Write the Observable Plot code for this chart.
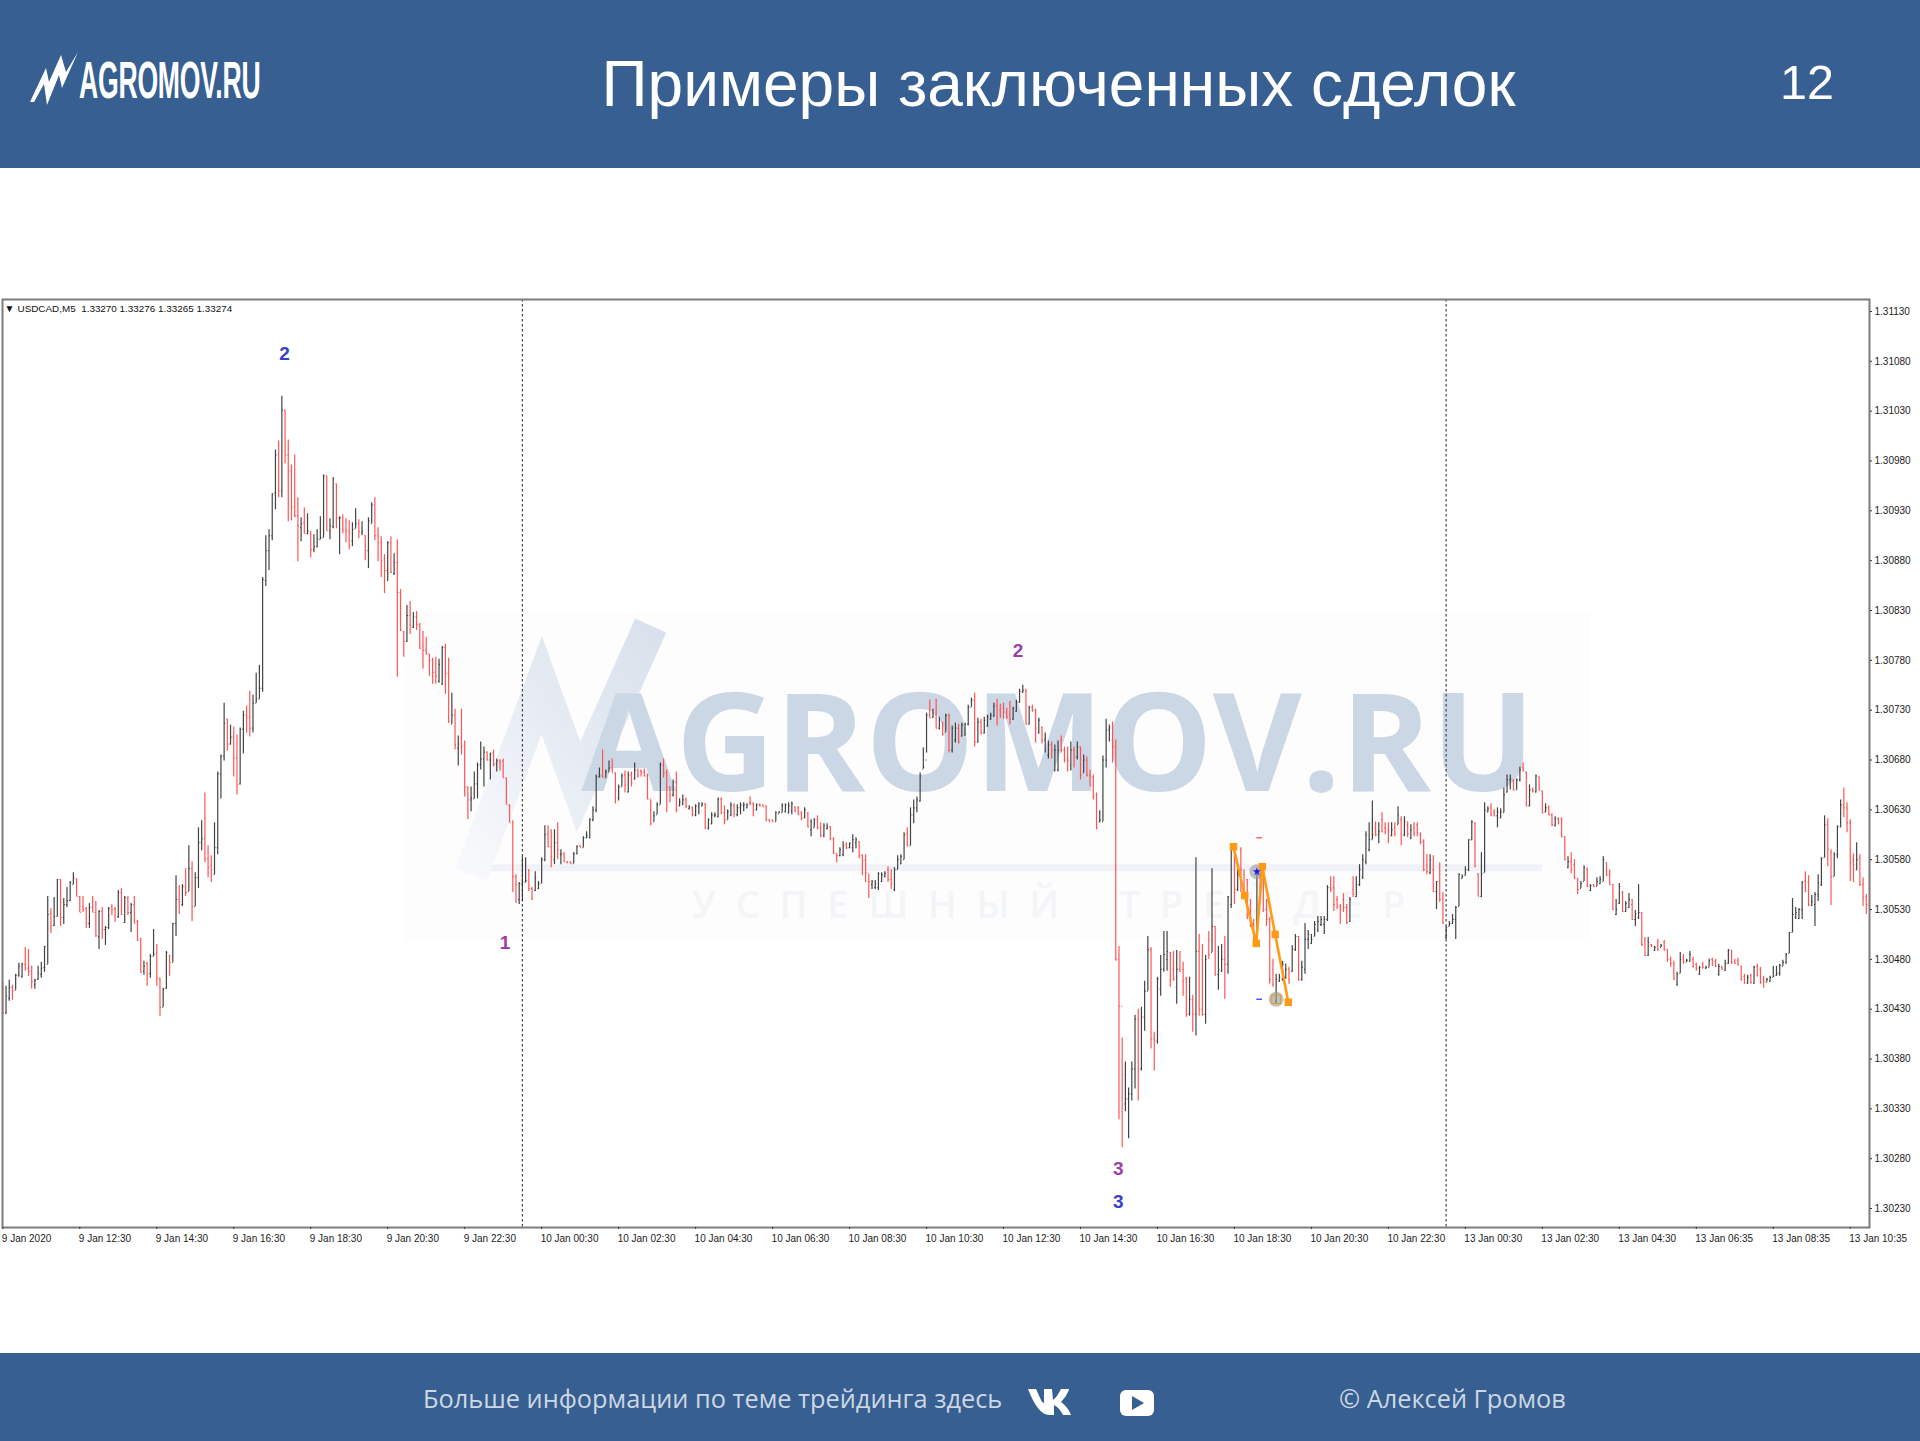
<!DOCTYPE html>
<html lang="ru"><head><meta charset="utf-8">
<script src="https://cdn.jsdelivr.net/npm/d3@7"></script>
<script src="https://cdn.jsdelivr.net/npm/@observablehq/plot@0.6"></script>
<style>
html,body{margin:0;padding:0;background:#fff;overflow:hidden}
#page{position:relative;width:1920px;height:1441px;font-family:"Liberation Sans",Arial,sans-serif}
#head{position:absolute;left:0;top:0;width:1920px;height:168px;background:#375f91;color:#fff}
#title{position:absolute;left:0;width:2117px;top:46px;text-align:center;font-size:64px;line-height:76px}
#num{position:absolute;left:1780px;top:53px;font-size:48.5px;line-height:58px}
#logo{position:absolute;left:79px;top:50px;font-family:"Liberation Sans";font-weight:700;font-size:52px;line-height:60px;transform-origin:0 0;transform:scaleX(.512);letter-spacing:-.5px;white-space:nowrap}
#chart{position:absolute;left:0;top:168px}
#foot{position:absolute;left:0;top:1353px;width:1920px;height:88px;background:#375f91;color:#cdd7e4;font-family:"Open Sans",sans-serif;font-size:25.35px}
#foot span{position:absolute;top:27px;white-space:nowrap;line-height:36px}
svg.deco{position:absolute;left:0;top:0;overflow:visible}
</style></head><body>
<div id="page">
<div id="head">
<svg class="deco" width="120" height="120"><polygon fill="#fff" points="30,102 46,68 49,82 61,55 66,72 78,52 62,88 59,75 47,105 44,84 34,102"/></svg>
<div id="logo">AGROMOV.RU</div>
<div id="title">Примеры заключенных сделок</div>
<div id="num">12</div>
</div>
<div id="chart"></div>
<div id="foot">
<span style="left:423px">Больше информации по теме трейдинга здесь</span>
<svg class="deco" width="1200" height="88"><path fill="#fff" d="M1028 36h8l5 11c1 2 2 3 3 3V36h8l1 11c3-2 6-7 8-11h8c-1 5-6 11-8 13 3 2 8 7 10 13h-8c-2-4-5-8-9-10v10h-5c-7 0-14-8-21-26z"/><rect x="1120" y="37" width="34" height="26" rx="6" fill="#fff"/><polygon points="1132,43 1132,57 1144,50" fill="#375f91"/></svg>
<span style="left:1339px">© Алексей Громов</span>
</div>
</div>
<script>
// Prices in points above 1.30000; each row is [high, low, open, close]
const bars9Jan = [
[457,425,456,426],[453,425,426,443],[459,438,441,452],[454,439,452,448],[465,449,449,464],[476,462,464,473],[476,461,463,475],[492,468,475,471],
[490,463,471,468],[473,450,468,458],[460,450,455,459],[473,459,460,466],[477,461,465,471],[493,467,472,493],[543,475,475,525],[531,506,526,514],
[542,513,514,523],[560,523,523,560],[560,513,560,522],[541,515,522,535],[552,532,535,539],[558,538,539,557],[567,555,555,562],[561,543,560,543],
[543,527,543,527],[543,527,533,530],[532,511,531,516],[536,511,516,532],[543,527,532,527],[538,502,527,504],[529,490,503,528],[532,500,528,510],
[513,494,510,512],[532,510,512,531],[535,524,533,530],[532,517,531,530],[549,521,523,547],[551,524,547,525],[543,516,517,542],[543,524,541,527],
[536,507,527,535],[543,516,535,516],[519,498,518,499],[501,466,501,467],[478,464,468,473],[477,453,476,466],[485,461,466,483],[510,483,483,485],
[495,453,487,461],[461,423,461,432],[451,432,432,450],[488,450,451,487],[484,463,484,477],[516,477,477,516],[564,503,516,540],[554,525,540,538],
[555,533,535,553],[571,543,553,547],[594,548,548,571],[578,518,571,533],[567,533,533,562],[612,551,562,597],[619,589,597,601],[647,577,601,581],
[594,562,581,572],[584,557,574,570],[617,565,565,592],[668,585,592,666],[685,641,666,684],[737,679,684,717],[721,689,721,696],[715,695,696,703],
[713,663,703,682],[705,645,682,655],[712,655,656,711],[729,686,711,725],[734,707,725,723],[749,703,723,712],[745,707,712,737],[767,737,737,742],
[775,741,741,752],[863,748,752,861],[905,854,860,890],[911,870,890,905],[947,900,905,947],[991,931,948,986],[1000,943,985,950],[1045,943,950,1031],
[1031,977,1031,986],[1001,919,986,970],[976,920,970,933],[986,923,934,925],[943,879,925,915],[923,899,913,917],[933,907,918,907],[927,906,907,910],
[909,883,909,891],[906,888,891,894],[911,893,894,902],[924,901,901,903],[966,903,903,965],[965,910,965,910],[922,901,910,915],[963,912,914,963],
[957,912,957,923],[924,886,922,923],[926,907,923,911],[922,898,911,909],[920,891,910,908],[918,894,900,911],[932,912,912,917],[921,902,917,909],
[919,905,908,910],[905,880,905,890],[923,872,890,920],[938,917,917,936],[943,900,936,905],[913,879,905,898],[904,863,898,880],[886,847,882,870],
[899,859,870,898],[904,867,898,868],[887,865,867,878],[901,763,878,848],[851,809,848,810],[809,783,809,799],[835,798,799,825],[839,806,825,815],
[828,812,813,823],[829,810,824,816],[817,791,816,792],[809,771,794,790],[803,785,790,787],[786,764,786,780],[782,756,780,768],[783,756,768,764],
[781,757,759,776],[794,755,756,793],[796,746,793,767],[782,717,767,718],[747,716,716,725],[731,690,725,695],[704,674,692,696],[731,685,702,694],
[699,643,695,653],[653,620,653,640],[653,628,640,642],[668,641,641,656],[677,641,656,675],[698,670,675,681],[693,653,681,688],[688,679,688,680],
[687,660,680,686],[690,673,687,676],[681,668,676,679],[680,669,680,678],[681,662,679,662],[662,635,662,635],[635,617,635,617],[619,547,617,563],
[565,536,563,555],[557,535,540,556]];
const bars10Jan = [
[583,538,556,558],[582,557,557,559],[570,548,570,551],[552,539,551,541],[568,548,549,562],[558,550,551,556],[582,556,556,580],[614,578,580,605],
[614,592,606,593],[610,572,593,583],[610,575,580,597],[617,580,597,590],[590,575,585,586],[587,577,586,578],[578,576,578,577],[578,576,577,576],
[587,576,576,586],[594,585,586,593],[594,592,594,592],[603,592,592,602],[608,601,602,604],[621,601,602,620],[633,618,620,630],[665,627,630,663],
[672,662,663,664],[690,662,664,663],[670,662,662,668],[679,668,668,672],[681,667,672,667],[667,636,667,650],[655,639,642,653],[666,653,653,664],
[669,647,665,655],[668,647,648,665],[668,653,665,657],[677,660,661,670],[671,662,670,664],[670,663,669,667],[671,663,668,664],[666,640,664,641],
[640,614,641,616],[628,618,618,624],[637,625,625,635],[677,635,635,675],[681,662,675,667],[670,627,667,653],[653,637,653,645],[660,643,645,658],
[668,627,658,630],[641,633,634,638],[645,634,636,640],[642,631,640,634],[634,630,631,633],[633,623,632,625],[635,623,625,634],[637,625,633,636],
[637,633,634,636],[636,610,636,612],[621,610,611,620],[627,615,616,625],[627,622,624,625],[642,622,623,641],[642,625,641,627],[634,615,627,620],
[630,620,620,628],[637,623,625,635],[636,622,634,626],[635,623,625,632],[637,625,632,635],[637,628,634,635],[636,631,632,635],[643,634,637,636],
[637,623,636,630],[636,629,630,635],[636,633,635,634],[635,633,634,633],[634,618,633,620],[620,618,620,618],[620,618,619,618],[628,618,618,627],
[628,626,626,628],[636,627,627,634],[636,627,628,635],[637,626,627,634],[638,625,629,636],[633,627,633,629],[633,624,632,626],[628,619,627,621],
[632,621,622,630],[627,612,627,613],[620,603,610,618],[621,612,612,620],[624,610,620,612],[617,602,612,604],[616,602,604,614],[616,610,611,613],
[613,599,613,601],[602,585,601,587],[586,577,586,584],[592,583,584,590],[598,583,585,594],[597,590,595,592],[597,591,592,596],[605,587,592,600],
[602,591,597,600],[598,581,598,584],[585,564,584,579],[585,557,580,567],[565,541,566,558],[559,550,555,558],[559,550,552,556],[567,549,552,566],
[567,557,558,565],[568,562,563,566],[573,557,570,560],[570,550,560,556],[572,548,550,570],[584,570,570,580],[585,575,576,583],[607,580,580,605],
[612,593,606,594],[632,594,594,625],[640,616,625,632],[643,627,632,640],[667,638,639,664],[692,671,671,673],[727,687,680,725],[740,722,725,722],
[731,722,723,727],[741,711,726,712],[723,710,712,720],[718,704,718,706],[726,708,708,725],[726,687,725,690],[714,687,690,712],[717,697,700,712],
[716,696,712,698],[717,703,704,715],[717,704,705,716],[735,714,716,733],[742,733,733,740],[747,693,740,698],[722,697,698,718],[721,705,718,707],
[723,706,707,720],[725,713,714,723],[727,720,721,725],[737,723,724,734],[741,714,735,722],[736,722,730,724],[737,721,732,723],[732,721,728,723],
[739,715,725,721],[733,720,721,732],[740,728,729,738],[751,737,738,749],[755,747,748,750],[751,715,750,716],[734,715,716,733],[735,728,733,730],
[731,697,730,712],[722,706,707,720],[713,696,713,700],[707,687,700,702],[699,681,685,695],[698,681,695,690],[695,668,670,690],[699,668,670,690],
[704,687,700,690],[693,677,690,680],[693,668,682,680],[698,669,675,690],[693,672,690,683],[698,680,683,693],[693,660,693,665],[685,667,667,680],
[683,663,680,665],[670,653,665,663],[665,640,663,643],[647,610,645,612],[629,617,618,620],[684,618,618,680],[721,672,680,710],[715,698,710,712],
[718,677,714,693],[700,478,693,480],[493,319,480,433],[401,291,433,364],[377,327,335,340],[351,300,340,345],[377,338,345,370],[424,350,370,420],
[430,338,420,370],[432,368,370,422],[458,408,422,448],[503,448,448,490],[492,390,490,400],[407,368,400,398],[462,395,398,460],[484,443,450,470],
[508,467,470,485],[508,468,480,488],[487,452,487,460],[488,458,470,460],[489,435,452,470],[488,467,470,468],[477,443,470,458],[462,422,460,425],
[462,423,425,440],[444,407,440,425],[582,403,425,488],[505,423,488,430],[495,423,430,425],[484,415,425,480],[508,480,500,485],[571,487,487,513],
[513,463,513,465],[493,449,465,470],[495,467,468,480],[503,440,480,475],[543,465,475,543],[595,531,535,590],[592,535,590,550],[570,548,550,565],
[592,547,590,570],[570,540,565,545],[560,520,560,530],[540,512,530,515],[520,495,515,500],[568,493,497,565],[567,540,565,550],[575,527,560,530],
[540,513,530,520],[522,455,520,460],[480,452,470,455],[465,435,438,460],[465,457,458,462],[478,458,460,475],[475,460,462,470],[472,455,470,460],
[494,467,468,490],[505,488,490,503],[503,458,503,460],[478,458,460,472],[516,465,470,500],[509,490,500,505],[505,495,496,500],[518,503,503,515],
[523,507,510,518],[523,513,515,520],[523,505,515,520],[554,518,520,552],[563,547,552,550],[563,528,552,535],[543,530,540,533],[535,515,533,530],
[546,527,540,532],[535,515,532,517],[542,517,518,540],[563,542,550,545],[563,542,543,555],[575,553,555,570],[585,560,563,580],[608,575,578,605],
[617,588,590,600],[639,600,600,605],[618,603,612,605],[617,596,605,608],[627,607,620,608],[617,605,612,608],[617,596,610,608],[617,603,604,610],
[617,603,612,606],[633,615,615,625],[623,594,620,605],[623,603,605,618],[618,602,615,606],[615,600,602,610],[617,603,612,606],[617,603,615,607],
[607,595,605,598],[600,568,598,570],[585,565,575,568],[585,565,567,580],[584,547,570,548],[558,530,548,558],[577,537,558,540],[547,515,541,517]];
const bars13Jan = [
[513,500,502,512],[518,513,513,516],[525,515,516,520],[533,500,520,532],[566,533,533,565],[565,561,561,563],[573,564,564,570],[600,568,570,600],
[619,599,600,618],[617,572,617,573],[566,543,566,543],[587,542,543,566],[637,567,567,630],[633,627,628,631],[636,623,632,625],[630,623,628,624],
[632,612,624,628],[631,621,622,628],[652,627,627,645],[665,647,648,660],[665,650,660,661],[660,649,660,650],[661,650,650,660],[673,658,660,670],
[677,668,672,669],[668,633,668,634],[655,633,634,650],[652,647,650,649],[665,647,648,664],[663,649,663,650],[649,626,649,627],[636,627,628,632],
[634,624,632,625],[626,613,625,615],[623,613,614,621],[622,615,621,618],[622,602,621,603],[603,579,603,580],[583,571,572,578],[587,566,578,570],
[580,560,575,562],[561,545,561,550],[558,551,551,556],[574,558,558,572],[572,552,570,553],[555,548,549,554],[555,552,555,553],[562,553,553,558],
[563,555,556,560],[583,558,558,580],[577,563,577,565],[570,554,565,555],[555,529,555,530],[540,524,525,530],[556,535,536,553],[548,527,547,528],
[538,527,528,536],[546,531,532,540],[540,519,535,520],[529,513,520,526],[555,520,522,527],[527,493,527,495],[502,483,500,484],[502,483,484,497],
[495,492,495,493],[493,488,489,492],[500,488,498,490],[495,492,492,494],[499,488,497,490],[490,477,490,480],[482,472,480,476],[478,459,476,460],
[467,453,455,465],[487,466,466,480],[485,475,482,478],[480,477,477,479],[488,477,478,485],[482,471,480,473],[476,468,475,471],[473,464,465,472],
[477,470,475,472],[473,470,471,472],[480,472,472,479],[481,473,480,474],[480,472,478,473],[475,463,465,473],[473,469,472,470],[479,468,469,476],
[490,475,476,489],[489,475,489,477],[480,475,478,476],[481,473,479,475],[473,458,473,460],[465,455,463,457],[464,455,456,462],[465,455,464,457],
[473,455,456,472],[475,462,473,464],[472,455,470,457],[463,451,460,458],[461,457,457,460],[463,457,458,462],[473,462,462,463],[473,463,464,466],
[475,463,466,474],[479,473,473,477],[486,475,477,485],[507,486,486,507],[541,507,507,525],[532,520,522,527],[531,520,521,530],[558,520,530,557],
[568,547,558,548],[564,533,557,535],[544,533,534,538],[547,513,535,545],[565,538,545,557],[582,553,555,581],[624,582,582,615],[621,573,615,590],
[590,534,587,563],[587,563,563,585],[614,581,585,613],[640,612,613,635],[652,622,635,632],[637,607,632,617],[620,558,617,577],[586,557,580,575],
[597,569,570,580],[585,553,582,555],[562,533,555,542],[545,525,543,535],[572,533,534,533.5]];

const yTicks = d3.range(230, 1131, 50);                 // price ticks, points
const xTickLabels = ["9 Jan 2020","9 Jan 12:30","9 Jan 14:30","9 Jan 16:30","9 Jan 18:30","9 Jan 20:30","9 Jan 22:30",
"10 Jan 00:30","10 Jan 02:30","10 Jan 04:30","10 Jan 06:30","10 Jan 08:30","10 Jan 10:30","10 Jan 12:30","10 Jan 14:30","10 Jan 16:30","10 Jan 18:30","10 Jan 20:30","10 Jan 22:30",
"13 Jan 00:30","13 Jan 02:30","13 Jan 04:30","13 Jan 06:35","13 Jan 08:35","13 Jan 10:35"];
const barsPerTick = 24;
const daySeparators = [162, 450];
const waveLabels = [
 {i:87.8, p:1087, t:"2", c:"#3a40c8"},{i:156.6, p:497, t:"1", c:"#9b3fa6"},
 {i:316.5, p:789, t:"2", c:"#9b3fa6"},{i:347.8, p:270, t:"3", c:"#9b3fa6"},{i:347.8, p:237, t:"3", c:"#3a40c8"}];
const zigzag = [{i:383.7,p:593},{i:387.2,p:544},{i:390.8,p:496},{i:392.7,p:573},{i:396.7,p:505},{i:400.8,p:437}];
const tradeMarks = [{i:391,p:568},{i:397,p:440}];
const dashes = [{a:390.8,b:392.6,p:602,c:"#ff5050"},{a:390.8,b:392.6,p:440,c:"#3a3aff"}];
const waterBolt = [{i:146,p:565},{i:168,p:755},{i:179.5,p:653},{i:202,p:815}];

const P = v => 1.3 + v / 1e5;
const rows = [...bars9Jan, ...bars10Jan, ...bars13Jan].map(([h,l,o,c], i) => ({i, high:P(h), low:P(l), open:P(o), close:P(c), col: c >= o ? "#333333" : "#ff4646"}));

const boltGradient = () => {
  const defs = d3.create("svg:defs");
  const g = defs.append("linearGradient").attr("id","boltFade").attr("gradientUnits","objectBoundingBox")
    .attr("x1",0).attr("y1",1).attr("x2",1).attr("y2",0);
  g.append("stop").attr("offset",0).attr("stop-color","#f8f9fc");
  g.append("stop").attr("offset",.55).attr("stop-color","#e6ebf3");
  g.append("stop").attr("offset",1).attr("stop-color","#d9e1ec");
  return defs.node();
};

const plot = Plot.plot({
  width:1920, height:1185,
  marginLeft:2, marginRight:51, marginTop:131, marginBottom:126,
  x:{domain:[-0.1,582], axis:null},
  y:{domain:[P(211),P(1142)], axis:null},
  color:{type:"identity"},
  style:{background:"transparent", fontFamily:"Liberation Sans, Arial, sans-serif", color:"#222"},
  marks:[
    boltGradient,
    Plot.rect([{a:125,b:495,t:828,u:497}],{x1:"a",x2:"b",y1:d=>P(d.u),y2:d=>P(d.t),fill:"#fdfdfe"}),
    Plot.ruleY([572],{y:P,x1:150,x2:480,stroke:"#f0f2f7",strokeWidth:7}),
    Plot.line(waterBolt,{x:"i",y:d=>P(d.p),stroke:"url(#boltFade)",strokeWidth:34,strokeLinejoin:"miter",strokeMiterlimit:8,strokeLinecap:"butt"}),
    Plot.text(["AGROMOV.RU"],{x:[329],y:[P(693)],text:d=>d,fontSize:137,fontWeight:700,fontFamily:"Open Sans",fill:"#ccd7e5"}),
    Plot.text(["У  С  П  Е  Ш  Н  Ы  Й      Т  Р  Е  Й  Д  Е  Р"],{x:[326],y:[P(534)],text:d=>d,fontSize:38,fontWeight:600,fontFamily:"Open Sans",fill:"#f4f5f8",style:"white-space:pre"}),
    Plot.ruleX(daySeparators,{stroke:"#444",strokeDasharray:"2.5,2.5",strokeWidth:1.2}),
    Plot.ruleX(rows,{x:"i",y1:"low",y2:"high",stroke:"col",strokeWidth:1.2,strokeOpacity:.92}),
    Plot.link(rows,{x1:d=>d.i-.3,x2:"i",y1:"open",y2:"open",stroke:"col",strokeWidth:1}),
    Plot.link(rows,{x1:"i",x2:d=>d.i+.3,y1:"close",y2:"close",stroke:"col",strokeWidth:1}),
    Plot.dot(tradeMarks,{x:"i",y:d=>P(d.p),r:7.5,fill:"#9a9a9a",fillOpacity:.6}),
    Plot.line(zigzag,{x:"i",y:d=>P(d.p),stroke:"#ff9a14",strokeWidth:2.6}),
    Plot.dot(zigzag,{x:"i",y:d=>P(d.p),symbol:"square",r:4.2,fill:"#ff9a14"}),
    Plot.dot(tradeMarks.slice(1),{x:"i",y:d=>P(d.p),symbol:"square",r:5,fill:"none",stroke:"#d9a234",strokeWidth:1.2}),
    Plot.dot(tradeMarks.slice(0,1),{x:"i",y:d=>P(d.p),symbol:"star",r:2.6,fill:"#1a1aff"}),
    Plot.link(dashes,{x1:"a",x2:"b",y1:d=>P(d.p),y2:d=>P(d.p),stroke:"c",strokeWidth:1.3}),
    Plot.text(waveLabels,{x:"i",y:d=>P(d.p),text:"t",fill:"c",fontSize:19,fontWeight:700,fontFamily:"Liberation Sans"}),
    Plot.frame({stroke:"#7d7d7d",strokeWidth:2}),
    Plot.axisY(yTicks.map(P),{anchor:"right",tickFormat:d=>d.toFixed(5),tickSize:2,tickPadding:3,fontSize:10,stroke:"#333",fill:"#1c1c1c",label:null}),
    Plot.axisX(xTickLabels.map((_,k)=>k*barsPerTick),{anchor:"bottom",tickFormat:()=>"",tickSize:2,stroke:"#333",label:null}),
    Plot.axisX(xTickLabels.map((_,k)=>k*barsPerTick),{anchor:"bottom",tickFormat:d=>xTickLabels[d/barsPerTick],tickSize:0,tickPadding:7,fontSize:10,textAnchor:"start",dx:-1,fill:"#1c1c1c",label:null}),
    Plot.text(["▼"],{frameAnchor:"top-left",text:d=>d,dx:2,dy:5,fontSize:10,fill:"#111"}),
    Plot.text(["USDCAD,M5  1.33270 1.33276 1.33265 1.33274"],{frameAnchor:"top-left",text:d=>d,dx:15,dy:5,fontSize:9.9,fill:"#111"})
  ]
});
document.getElementById("chart").appendChild(plot);
</script>
</body></html>
